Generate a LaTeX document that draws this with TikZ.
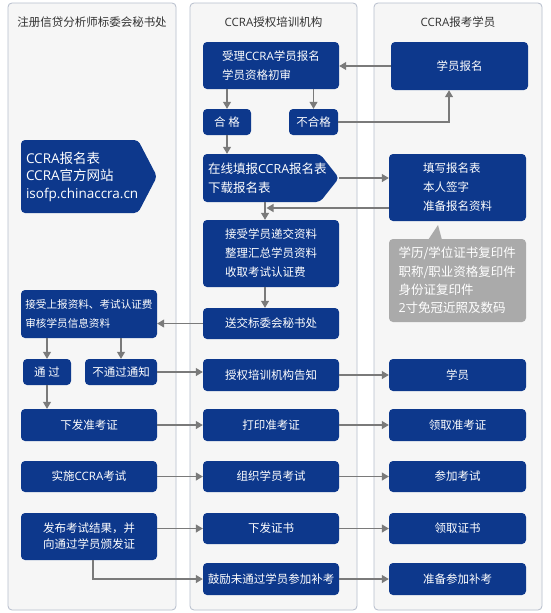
\documentclass[tikz,border=0pt]{standalone}
\usepackage{fontspec}
\setmainfont{Noto Sans CJK SC}
\newfontfamily\latf{Open Sans}
\usetikzlibrary{arrows.meta}
\definecolor{nblue}{RGB}{13,56,140}
\definecolor{graybox}{RGB}{170,170,170}
\definecolor{arrgray}{RGB}{122,122,122}
\definecolor{lanefill}{RGB}{246,246,246}
\definecolor{laneline}{RGB}{182,190,204}
\definecolor{hdrgray}{RGB}{51,51,51}
\begin{document}
\begin{tikzpicture}[x=1pt,y=-1pt,
  lane/.style={draw=laneline, fill=lanefill, rounded corners=4pt, line width=0.8pt},
  box/.style={fill=nblue, rounded corners=4pt, text=white, inner sep=0pt,
    font=\fontsize{11.5}{19}\selectfont, align=center},
  wbox/.style={box, minimum width=136pt},
  txt/.style={text=white, inner sep=0pt},
  arr/.style={draw=arrgray, line width=1.2pt, -{Triangle[length=7pt,width=8pt]}},
  hdr/.style={text=hdrgray, inner sep=0pt, font=\fontsize{11.5}{14}\selectfont}]
\useasboundingbox (0,0) rectangle (550,613);
\fill[white] (0,0) rectangle (550,613);
% lanes
\draw[lane] (8,3) rectangle (176,610);
\draw[lane] (190,3) rectangle (357,610);
\draw[lane] (374,3) rectangle (542,610);
\node[hdr] (h1) at (92,22) {注册信贷分析师标委会秘书处};
\node[hdr] (h2) at (273.5,22) {{\latf CCRA}授权培训机构};
\node[hdr] (h3) at (458,22) {{\latf CCRA}报考学员};
% middle column
\node[wbox, minimum height=47pt, align=left] (shouli) at (271,65.5) {受理{\latf CCRA}学员报名\\学员资格初审};
\node[box, minimum width=48pt, minimum height=26pt] (hege) at (227,122) {合 格};
\node[box, minimum width=49pt, minimum height=26pt] (buhege) at (313.5,122) {不合格};
\node[box, minimum width=137pt, minimum height=48pt] (baoming) at (459.5,66) {学员报名};
\fill[nblue, rounded corners=4pt] (203,154) -- (320,154) -- (339,178) -- (320,202) -- (203,202) -- cycle;
\node[txt, minimum width=136pt, minimum height=48pt, text width=126pt, align=left,
  font=\fontsize{12.5}{18.5}\selectfont] (zaixian) at (271,178) {在线填报{\latf CCRA}报名表\\下载报名表};
\node[box, minimum width=137pt, minimum height=67pt, align=left] (tianxie) at (457.5,187.5) {填写报名表\\本人签字\\准备报名资料};
\node[wbox, minimum height=67pt, align=left] (jieshou) at (271,253.5) {接受学员递交资料\\整理汇总学员资料\\收取考试认证费};
\node[wbox, minimum height=31pt] (songjiao) at (271,323.5) {送交标委会秘书处};
% gray note
\fill[graybox] (428,240) -- (438,225) -- (442,240) -- cycle;
\node[box, fill=graybox, minimum width=137pt, minimum height=83pt, text width=118pt, align=left,
  font=\fontsize{12.5}{18.3}\selectfont] (cailiao) at (457.5,280.5) {学历/学位证书复印件\\职称/职业资格复印件\\身份证复印件\\{\latf 2}寸免冠近照及数码};
% left pentagon
\fill[nblue, rounded corners=4pt] (21,140) -- (138,140) -- (157,176.5) -- (138,213) -- (21,213) -- cycle;
\node[txt, minimum width=136pt, minimum height=73pt, text width=126pt, align=left,
  font=\fontsize{13.5}{17.5}\selectfont] (biao) at (89,176.5) {{\latf CCRA}报名表\\{\latf CCRA}官方网站\\{\latf isofp.chinaccra.cn}};
% left column
\node[wbox, minimum height=48pt, align=left, font=\fontsize{10.6}{19}\selectfont] (shangbao) at (89,314) {接受上报资料、考试认证费\\审核学员信息资料};
\node[box, minimum width=48pt, minimum height=26pt] (tongguo) at (47,372) {通 过};
\node[box, minimum width=72pt, minimum height=26pt] (butongguo) at (121,372) {不通过通知};
\node[wbox, minimum height=32pt] (gaozhi) at (271,375) {授权培训机构告知};
\node[box, minimum width=137pt, minimum height=32pt] (xueyuan) at (457.5,375) {学员};
\node[wbox, minimum height=32pt] (xiafa) at (89,425) {下发准考证};
\node[wbox, minimum height=32pt] (dayin) at (271,425) {打印准考证};
\node[box, minimum width=137pt, minimum height=32pt] (lingqu) at (457.5,425) {领取准考证};
\node[wbox, minimum height=31pt] (shishi) at (89,476.5) {实施{\latf CCRA}考试};
\node[wbox, minimum height=31pt] (zuzhi) at (271,476.5) {组织学员考试};
\node[box, minimum width=137pt, minimum height=31pt] (canjia) at (457.5,476.5) {参加考试};
\node[wbox, minimum height=47pt, font=\fontsize{11.5}{16}\selectfont] (fabu) at (89,536.5) {发布考试结果，并\\向通过学员颁发证};
\node[wbox, minimum height=31pt] (xiafazs) at (271,528.5) {下发证书};
\node[box, minimum width=137pt, minimum height=31pt] (lingquzs) at (457.5,528.5) {领取证书};
\node[wbox, minimum height=32pt] (guli) at (271,579) {鼓励未通过学员参加补考};
\node[box, minimum width=137pt, minimum height=32pt] (zhunbei) at (457.5,579) {准备参加补考};
% connectors
\draw[arr] (baoming.west) -- (baoming.west -| shouli.east);
\draw[arr] (hege.north |- shouli.south) -- (hege.north);
\draw[arr] (buhege.north |- shouli.south) -- (buhege.north);
\coordinate (bmb) at ([xshift=-10.5pt]baoming.south);
\draw[arr] (buhege.east) -| (bmb);
\draw[arr] (hege.south) -- (hege.south |- zaixian.north);
\draw[arr] (zaixian.east) -- (zaixian.east -| tianxie.west);
\coordinate (vx) at ([xshift=-6pt]zaixian.south);
\draw[arr] (vx) -- (vx |- jieshou.north);
\coordinate (bk) at ([yshift=-20.5pt]tianxie.west);
\draw[arr, shorten >=1.5pt] (bk) -- (bk -| vx);
\draw[arr] (vx |- jieshou.south) -- (vx |- songjiao.north);
\draw[arr] (songjiao.west) -- (songjiao.west -| shangbao.east);
\draw[arr] (tongguo.north |- shangbao.south) -- (tongguo.north);
\draw[arr] (butongguo.north |- shangbao.south) -- (butongguo.north);
\draw[arr] (butongguo.east) -- (butongguo.east -| gaozhi.west);
\draw[arr] (gaozhi.east) -- (xueyuan.west);
\draw[arr] (tongguo.south) -- (tongguo.south |- xiafa.north);
\draw[arr] (xiafa.east) -- (dayin.west);
\draw[arr] (dayin.east) -- (lingqu.west);
\draw[arr] (shishi.east) -- (zuzhi.west);
\draw[arr] (zuzhi.east) -- (canjia.west);
\draw[arr] (fabu.east |- xiafazs.west) -- (xiafazs.west);
\draw[arr] (xiafazs.east) -- (lingquzs.west);
\coordinate (fb) at ([xshift=4pt]fabu.south);
\draw[arr] (fb) |- (guli.west);
\draw[arr] (guli.east) -- (zhunbei.west);
\end{tikzpicture}
\end{document}
